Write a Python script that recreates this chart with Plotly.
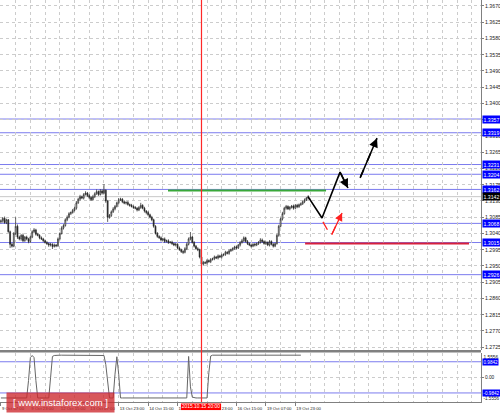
import plotly.graph_objects as go

# ---------------- data ----------------
label_bars = [0, 16, 32, 48, 64, 80, 96, 112, 128, 144, 160]
bar_labels = ["9 Oct 07:00", "9 Oct 23:00", "12 Oct 15:00", "13 Oct 07:00", "13 Oct 23:00",
              "14 Oct 15:00", "15 Oct 07:00", "15 Oct 23:00", "16 Oct 15:00",
              "19 Oct 07:00", "19 Oct 23:00"]

first_open = 1.3072
close = [
    1.3075, 1.3082, 1.3070, 1.3078, 1.3045, 1.3010, 1.3005, 1.3040, 1.3060, 1.3030,
    1.3025, 1.3035, 1.3020, 1.3030, 1.3025, 1.3018, 1.3030, 1.3045, 1.3050, 1.3038,
    1.3035, 1.3028, 1.3025, 1.3020, 1.3015, 1.3012, 1.3008, 1.3010, 1.3004, 1.3008,
    1.3006, 1.3025, 1.3040, 1.3055, 1.3062, 1.3078, 1.3085, 1.3095, 1.3098, 1.3104,
    1.3110, 1.3125, 1.3135, 1.3142, 1.3138, 1.3148, 1.3152, 1.3145, 1.3140, 1.3134,
    1.3142, 1.3150, 1.3156, 1.3148, 1.3158, 1.3152, 1.3160, 1.3130, 1.3085, 1.3090,
    1.3100, 1.3108, 1.3115, 1.3125, 1.3133, 1.3135, 1.3128, 1.3124, 1.3126, 1.3120,
    1.3118, 1.3115, 1.3112, 1.3110, 1.3105, 1.3112, 1.3118, 1.3110, 1.3102, 1.3098,
    1.3092, 1.3085, 1.3078, 1.3060, 1.3040, 1.3032, 1.3028, 1.3022, 1.3025, 1.3018,
    1.3020, 1.3015, 1.3016, 1.3012, 1.3008, 1.3010, 1.3000, 1.2995, 1.2990, 1.2988,
    1.2998, 1.3010, 1.3025, 1.3030, 1.3015, 1.3005, 1.2998, 1.2995, 1.2975, 1.2955,
    1.2960, 1.2958, 1.2965, 1.2962, 1.2968, 1.2970, 1.2975, 1.2972, 1.2978, 1.2975,
    1.2980, 1.2982, 1.2988, 1.2985, 1.2992, 1.2995, 1.2998, 1.3003, 1.3000, 1.3008,
    1.3015, 1.3020, 1.3028, 1.3018, 1.3012, 1.3008, 1.3005, 1.3010, 1.3008, 1.3012,
    1.3015, 1.3022, 1.3018, 1.3012, 1.3015, 1.3008, 1.3018, 1.3010, 1.3005, 1.3012,
    1.3035, 1.3060, 1.3080, 1.3095, 1.3110, 1.3115, 1.3108, 1.3112, 1.3116, 1.3110,
    1.3118, 1.3114, 1.3120, 1.3122, 1.3128, 1.3133, 1.3138, 1.3142,
]
# upper / lower wick lengths in pips, read per bar
wick_up = [
    4, 3, 5, 3, 2, 3, 4, 4, 25, 5,
    4, 3, 5, 3, 4, 3, 4, 4, 5, 3,
    4, 3, 4, 3, 3, 4, 3, 4, 3, 4,
    3, 4, 3, 5, 4, 4, 5, 4, 3, 4,
    4, 5, 4, 5, 3, 4, 5, 3, 4, 3,
    5, 4, 6, 3, 5, 4, 17, 2, 3, 4,
    4, 5, 4, 3, 5, 4, 3, 4, 3, 4,
    3, 4, 3, 4, 3, 4, 7, 3, 4, 3,
    4, 3, 4, 3, 3, 4, 3, 4, 3, 4,
    3, 4, 3, 4, 3, 4, 3, 4, 3, 4,
    4, 5, 4, 14, 3, 4, 3, 4, 3, 3,
    4, 3, 4, 3, 4, 3, 4, 3, 4, 3,
    4, 3, 4, 3, 4, 3, 4, 3, 4, 3,
    4, 5, 4, 3, 4, 3, 4, 3, 4, 3,
    4, 5, 4, 3, 4, 3, 4, 3, 4, 3,
    4, 4, 4, 5, 4, 4, 3, 4, 3, 4,
    3, 4, 3, 4, 3, 4, 3, 4,
]
wick_dn = [
    4, 5, 3, 4, 3, 10, 4, 3, 4, 5,
    4, 5, 4, 3, 4, 5, 4, 3, 4, 4,
    3, 4, 3, 4, 3, 4, 5, 4, 7, 3,
    4, 3, 4, 3, 4, 3, 4, 3, 4, 3,
    3, 4, 3, 4, 3, 4, 3, 4, 5, 4,
    3, 4, 3, 4, 3, 4, 3, 5, 13, 4,
    4, 3, 4, 3, 4, 3, 4, 3, 4, 3,
    4, 3, 4, 3, 4, 3, 4, 3, 4, 5,
    4, 3, 4, 4, 3, 4, 3, 4, 3, 4,
    3, 4, 3, 4, 3, 4, 4, 3, 4, 5,
    3, 4, 3, 4, 3, 4, 3, 4, 4, 11,
    4, 3, 4, 3, 4, 3, 4, 3, 4, 3,
    4, 3, 4, 3, 4, 3, 4, 3, 4, 3,
    4, 3, 4, 3, 4, 3, 4, 3, 4, 3,
    4, 3, 4, 3, 4, 3, 4, 3, 4, 3,
    3, 4, 3, 4, 3, 4, 3, 4, 3, 4,
    3, 4, 3, 4, 3, 4, 3, 4,
]
# oscillator in the lower pane
osc = (
    [-1.30] * 15 + [-0.20, 1.25, 1.38, 1.25, -0.20] + [-1.30] * 7
    + [0.00, 1.32, 1.38] + [1.40] * 26 + [1.38, 0.80, -0.30]
    + [-1.30] * 3 + [0.20, 1.30, 0.20] + [-1.30] * 37
    + [1.32, -0.60, -1.25] + [-1.30] * 8 + [0.30, 1.35] + [1.40] * 49
)

price_ticks = [1.2725, 1.2770, 1.2815, 1.2860, 1.2905, 1.2950, 1.2995, 1.3040, 1.3085,
               1.3130, 1.3175, 1.3220, 1.3265, 1.3310, 1.3355, 1.3400, 1.3445, 1.3490,
               1.3535, 1.3580, 1.3625, 1.3670]
blue_levels = [1.3357, 1.3319, 1.3231, 1.3204, 1.3162, 1.3068, 1.3015, 1.2926]
current_price = 1.3142
osc_levels = [0.9842, -0.9842]
osc_bounds = [-1.5556, 1.5556]

green_level = 1.3159
green_span = [90.8, 176.7]
red_level = 1.3012
red_span = [165.3, 254.4]
marker_bar = 109
marker_text = "2015.10.15 20:00"

proj_solid_bar = [166.9, 174.5, 184.3, 188.6]
proj_solid_price = [1.3142, 1.3083, 1.3210, 1.3166]
proj_dash_bar = [195.2, 204.4]
proj_dash_price = [1.3194, 1.3304]
alt_bar = [175.0, 179.4, 185.4]
alt_price = [1.3072, 1.3033, 1.3097]

# ---------------- build ----------------
n = len(close)
bars = list(range(n))
opens = [first_open] + close[:-1]
highs = [max(o, c) + u * 0.0001 for o, c, u in zip(opens, close, wick_up)]
lows = [min(o, c) - d * 0.0001 for o, c, d in zip(opens, close, wick_dn)]

FONT = "Liberation Sans"
AX = "#808080"
GRID = "#cccccc"
LBL = 5.2

fig = go.Figure()
fig.add_trace(go.Candlestick(
    x=bars, open=opens, high=highs, low=lows, close=close,
    xaxis="x", yaxis="y", whiskerwidth=0,
    increasing=dict(line=dict(color="#222222", width=0.7), fillcolor="#ffffff"),
    decreasing=dict(line=dict(color="#222222", width=0.7), fillcolor="#222222"),
    showlegend=False, hoverinfo="skip"))
fig.add_trace(go.Scatter(x=bars, y=osc, xaxis="x", yaxis="y2", mode="lines",
                         line=dict(color="#666666", width=1), showlegend=False,
                         hoverinfo="skip"))

# projections
fig.add_trace(go.Scatter(x=proj_solid_bar, y=proj_solid_price, mode="lines",
                         line=dict(color="#000000", width=1.6), showlegend=False,
                         hoverinfo="skip"))
fig.add_trace(go.Scatter(x=proj_dash_bar, y=proj_dash_price, mode="lines",
                         line=dict(color="#000000", width=1.6, dash="dash"),
                         showlegend=False, hoverinfo="skip"))
fig.add_trace(go.Scatter(x=alt_bar, y=alt_price, mode="lines",
                         line=dict(color="#ff2020", width=1.3, dash="dash"),
                         showlegend=False, hoverinfo="skip"))

shapes = []
for lv in blue_levels:
    shapes.append(dict(type="line", xref="paper", x0=0, x1=1, yref="y", y0=lv, y1=lv,
                       line=dict(color="#7b7bee", width=1), layer="below"))
shapes.append(dict(type="line", xref="paper", x0=0, x1=1, yref="y", y0=current_price,
                   y1=current_price, line=dict(color="#c8c8c8", width=1), layer="below"))
for lv in osc_levels:
    shapes.append(dict(type="line", xref="paper", x0=0, x1=1, yref="y2", y0=lv, y1=lv,
                       line=dict(color="#7b7bee", width=1), layer="below"))
shapes.append(dict(type="line", xref="x", x0=green_span[0], x1=green_span[1], yref="y",
                   y0=green_level, y1=green_level, line=dict(color="#3aa83a", width=2)))
shapes.append(dict(type="line", xref="x", x0=red_span[0], x1=red_span[1], yref="y",
                   y0=red_level, y1=red_level, line=dict(color="#d8203c", width=2)))
# pane separator
shapes.append(dict(type="line", xref="paper", x0=0, x1=1, yref="paper", y0=0.1262,
                   y1=0.1262, line=dict(color=AX, width=2.5)))
# time marker (red vertical), drawn last so it sits on top
shapes.append(dict(type="line", xref="x", x0=marker_bar, x1=marker_bar, yref="paper",
                   y0=0, y1=1, layer="above", line=dict(color="rgb(255,40,40)", width=1.2)))

annotations = []
def side_label(y, yref, text, bg, size=LBL, color="white", yanchor="middle"):
    annotations.append(dict(xref="paper", x=1, xanchor="left", xshift=1, yref=yref, y=y,
                            yanchor=yanchor, text=text, showarrow=False, bgcolor=bg,
                            font=dict(family=FONT, size=size, color=color), borderpad=0.5))

for lv in blue_levels:
    side_label(lv, "y", f"{lv:.4f}", "#0000ff")
side_label(current_price, "y", f"{current_price:.4f}", "#000000")
side_label(osc_bounds[1], "y2", f"{osc_bounds[1]:.4f}", "rgba(0,0,0,0)", size=4.8,
           color="#222", yanchor="top")
side_label(osc_bounds[0], "y2", f"{osc_bounds[0]:.4f}", "rgba(0,0,0,0)", size=4.6,
           color="#222", yanchor="bottom")
for lv in osc_levels:
    side_label(lv, "y2", f"{lv:.4f}", "#0000ff", size=4.6)

# arrow heads
annotations.append(dict(x=proj_solid_bar[-1], y=proj_solid_price[-1], ax=proj_solid_bar[-2],
                        ay=proj_solid_price[-2], xref="x", yref="y", axref="x", ayref="y",
                        text="", showarrow=True, arrowhead=2, arrowsize=1.2, arrowwidth=1.5,
                        arrowcolor="#000000"))
annotations.append(dict(x=proj_dash_bar[-1], y=proj_dash_price[-1], ax=proj_dash_bar[-2],
                        ay=proj_dash_price[-2], xref="x", yref="y", axref="x", ayref="y",
                        text="", showarrow=True, arrowhead=2, arrowsize=1.2, arrowwidth=1.5,
                        arrowcolor="#000000", standoff=0))
annotations.append(dict(x=alt_bar[-1], y=alt_price[-1], ax=alt_bar[-2], ay=alt_price[-2],
                        xref="x", yref="y", axref="x", ayref="y", text="", showarrow=True,
                        arrowhead=2, arrowsize=1.2, arrowwidth=1.3, arrowcolor="#ff2020"))
# marker time label
annotations.append(dict(xref="x", x=marker_bar, yref="paper", y=0, yanchor="top",
                        yshift=-1, text=marker_text, showarrow=False, bgcolor="#ff0000",
                        font=dict(family=FONT, size=6, color="white"), borderpad=0.5))
# watermark
annotations.append(dict(xref="paper", x=60.5 / 481, yref="paper", y=0.0, xanchor="center",
                        yanchor="middle", text="[ www.instaforex.com ]", showarrow=False,
                        bgcolor="rgba(205,40,45,0.78)", width=105, height=17,
                        font=dict(family=FONT, size=9.5, color="white")))

fig.update_layout(
    width=500, height=414,
    margin=dict(l=0, r=19, t=0, b=12),
    paper_bgcolor="white", plot_bgcolor="white",
    font=dict(family=FONT, size=LBL, color="#222"),
    showlegend=False,
    xaxis=dict(domain=[0, 1], anchor="y2", range=[-0.5, 260.9],
               rangeslider=dict(visible=False),
               tickmode="array", tickvals=label_bars, ticktext=bar_labels,
               ticklabelposition="outside right", tickangle=0,
               tickfont=dict(family=FONT, size=6, color="#222"),
               ticks="outside", ticklen=3, tickcolor=AX,
               showline=True, linecolor=AX, linewidth=1,
               showgrid=False, zeroline=False,
               minor=dict(tickmode="linear", tick0=0, dtick=8, showgrid=True,
                          gridcolor=GRID, griddash="dot", gridwidth=1, ticks="")),
    yaxis=dict(domain=[0.1294, 1], anchor="x", side="right",
               range=[1.27174, 1.36866],
               tickmode="array", tickvals=price_ticks,
               ticktext=[f"{v:.4f}" for v in price_ticks],
               tickfont=dict(family=FONT, size=LBL, color="#222"),
               ticks="outside", ticklen=2, tickcolor=AX,
               showgrid=True, gridcolor=GRID, griddash="dot", gridwidth=1,
               showline=True, linecolor=AX, linewidth=1, zeroline=False),
    yaxis2=dict(domain=[0, 0.1226], anchor="x", side="right",
                range=[osc_bounds[0], osc_bounds[1]],
                tickmode="array", tickvals=[0], ticktext=["0.00"],
                tickfont=dict(family=FONT, size=4.8, color="#222"),
                ticks="outside", ticklen=2, tickcolor=AX,
                showgrid=True, gridcolor=GRID, griddash="dot", gridwidth=1,
                showline=True, linecolor=AX, linewidth=1, zeroline=False),
    shapes=shapes,
    annotations=annotations,
)

# the browser will not draw text below 6px, so the dense time labels (and the
# red time-marker label) are scaled down in place after plotly has drawn them
POST = """
document.body.style.margin='0';
(function(){
  var gd = document.getElementById('{plot_id}');
  var MARK = '%s';
  function scaleAbout(el, cx, cy, s){
    var tr = el.getAttribute('transform') || '';
    el.setAttribute('transform', tr + ' translate(' + cx + ',' + cy + ') scale(' + s + ') translate(' + (-cx) + ',' + (-cy) + ')');
    el.setAttribute('data-shrunk', '1');
  }
  function shrink(){
    gd.querySelectorAll('g.xtick text').forEach(function(t){
      if (t.getAttribute('data-shrunk')) return;
      scaleAbout(t, parseFloat(t.getAttribute('x') || 0), parseFloat(t.getAttribute('y') || 0), 0.72);
    });
    gd.querySelectorAll('g.annotation-text-g').forEach(function(g){
      if (g.getAttribute('data-shrunk')) return;
      if ((g.textContent || '').indexOf(MARK) < 0) return;
      var bb = g.getBBox();
      scaleAbout(g, bb.x + bb.width / 2, bb.y, 0.82);
    });
  }
  shrink();
  if (gd.on) gd.on('plotly_afterplot', function(){ setTimeout(shrink, 0); });
  setTimeout(shrink, 30);
})();
""" % marker_text

fig.write_html("out.html", config={"displayModeBar": False}, post_script=POST)
